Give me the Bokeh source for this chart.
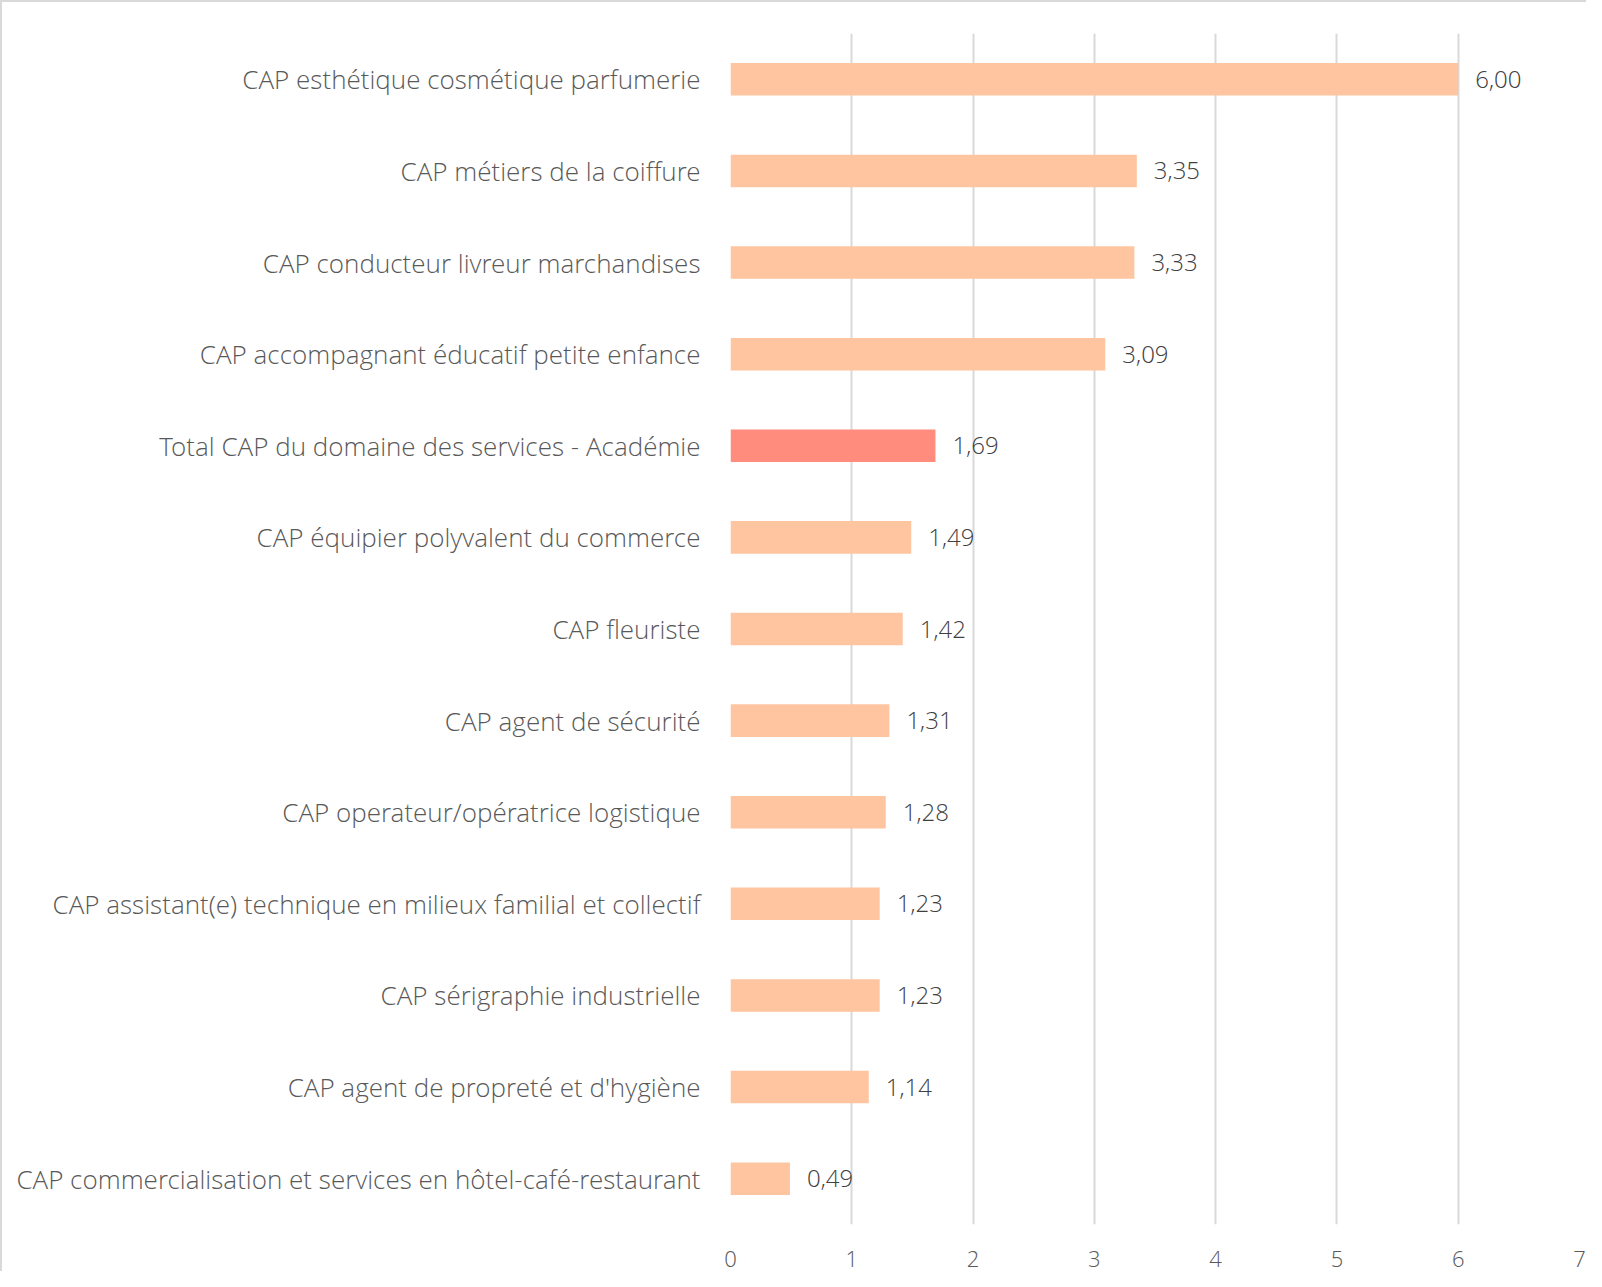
from bokeh.plotting import figure
from bokeh.models import ColumnDataSource, Range1d, FactorRange, FixedTicker
from bokeh.core.properties import value
from bokeh.embed import file_html
from bokeh.resources import INLINE

categories = [
    "CAP esthétique cosmétique parfumerie",
    "CAP métiers de la coiffure",
    "CAP conducteur livreur marchandises",
    "CAP accompagnant éducatif petite enfance",
    "Total CAP du domaine des services - Académie",
    "CAP équipier polyvalent du commerce",
    "CAP fleuriste",
    "CAP agent de sécurité",
    "CAP operateur/opératrice logistique",
    "CAP assistant(e) technique en milieux familial et collectif",
    "CAP sérigraphie industrielle",
    "CAP agent de propreté et d'hygiène",
    "CAP commercialisation et services en hôtel-café-restaurant",
]
values = [6.00, 3.35, 3.33, 3.09, 1.69, 1.49, 1.42, 1.31, 1.28, 1.23, 1.23, 1.14, 0.49]
colors = ["#FFC4A0" if not c.startswith("Total") else "#FF8C7C" for c in categories]
labels = [f"{v:.2f}".replace(".", ",") for v in values]
x_ticks = [0, 1, 2, 3, 4, 5, 6, 7]

FONT = "'Open Sans Light', 'Open Sans'"

source = ColumnDataSource(dict(cat=categories, val=values, color=colors, label=labels))

p = figure(
    width=1586, height=1271,
    y_range=FactorRange(factors=list(reversed(categories)), range_padding=0),
    x_range=Range1d(0, 7),
    output_backend="svg", toolbar_location=None,
    min_border_left=728, min_border_top=31, min_border_bottom=49, min_border_right=9,
)
p.styles = {"border-left": "2px solid #d9d9d9", "border-top": "2px solid #d9d9d9",
            "box-sizing": "border-box"}
p.outline_line_color = None

p.hbar(y="cat", right="val", left=0, height=0.355, color="color", line_color=None, source=source)
p.text(x="val", y="cat", text="label", source=source, x_offset=17,
       text_baseline="middle", text_align="left", text_font_size="24px",
       text_color="#404040", text_font=value(FONT))

p.xaxis.ticker = FixedTicker(ticks=x_ticks)
p.xaxis.axis_line_color = None
p.xaxis.major_tick_line_color = None
p.xaxis.minor_tick_line_color = None
p.xaxis.major_label_text_font_size = "22px"
p.xaxis.major_label_text_color = "#595959"
p.xaxis.major_label_text_font = FONT
p.xaxis.major_label_standoff = 20

p.yaxis.axis_line_color = None
p.yaxis.major_tick_line_color = None
p.yaxis.minor_tick_line_color = None
p.yaxis.major_label_text_font_size = "26px"
p.yaxis.major_label_text_color = "#595959"
p.yaxis.major_label_text_font = FONT
p.yaxis.major_label_standoff = 24

p.xgrid.grid_line_color = "#d9d9d9"
p.xgrid.grid_line_width = 2
p.ygrid.grid_line_color = None

open("out.html", "w").write(file_html(p, INLINE))
